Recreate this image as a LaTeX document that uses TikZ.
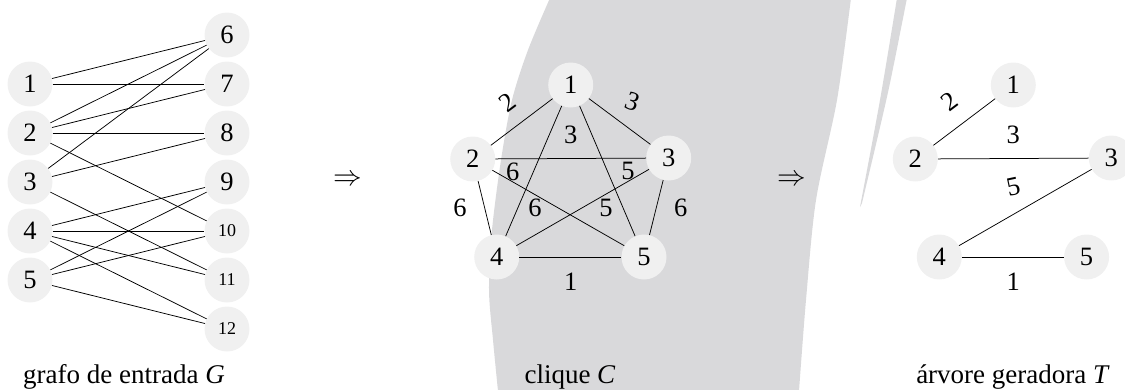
\documentclass[tikz,border=0pt]{standalone}
\usepackage{fontspec}
\setmainfont{Liberation Serif}
\definecolor{bandgray}{HTML}{D9D9DB}
\definecolor{nodegray}{HTML}{F0F0F0}
\tikzset{
  vtx/.style={circle, fill=nodegray, minimum size=45pt, inner sep=0pt, font=\fontsize{26.5}{30}\selectfont},
  smallvtx/.style={vtx, font=\fontsize{18}{20}\selectfont},
  edge/.style={line width=0.75pt, black},
  wlabel/.style={inner sep=0pt, font=\fontsize{26.5}{30}\selectfont},
  captiontext/.style={anchor=base, inner sep=0pt, font=\fontsize{27}{30}\selectfont},
  arrowsym/.style={inner sep=0pt, scale=1.15, font=\fontsize{24.88}{30}\selectfont}
}
\begin{document}
\begin{tikzpicture}[x=1pt,y=-1pt]
\useasboundingbox (0,0) rectangle (1125,389);
% background bands
\fill[bandgray] plot[smooth] coordinates {(550,-2) (528,50) (512,100) (501,160) (492,230) (489,290) (493,340) (498,391)}
  -- plot[smooth] coordinates {(799,391) (806,300) (816,200) (837,100) (851,-2)} -- cycle;
\fill[bandgray] plot[smooth] coordinates {(897,-2) (880,100) (860,207)}
  -- plot[smooth] coordinates {(862,203) (877,140) (890,83) (907,-2)} -- cycle;

% ---------- input graph G ----------
\node[vtx] (g1) at (30,84) {1};
\node[vtx] (g2) at (30,133) {2};
\node[vtx] (g3) at (30,182) {3};
\node[vtx] (g4) at (30,231) {4};
\node[vtx] (g5) at (30,280) {5};
\node[vtx] (g6) at (227,35) {6};
\node[vtx] (g7) at (227,84) {7};
\node[vtx] (g8) at (227,133) {8};
\node[vtx] (g9) at (227,182) {9};
\node[smallvtx] (g10) at (227,231) {10};
\node[smallvtx] (g11) at (227,280) {11};
\node[smallvtx] (g12) at (227,329) {12};
\foreach \a/\b in {g1/g6,g1/g7,g2/g6,g2/g7,g2/g8,g2/g10,g3/g6,g3/g8,g3/g11,g4/g9,g4/g10,g4/g11,g4/g12,g5/g9,g5/g10,g5/g12}
  \draw[edge] (\a) -- (\b);
\node[captiontext] (capG) at (124,383) {grafo de entrada \textit{G}};

\node[arrowsym] (arr1) at (348,180) {$\Rightarrow$};

% ---------- clique C ----------
\node[vtx] (c1) at (570.7,85) {1};
\node[vtx] (c2) at (472.7,159) {2};
\node[vtx] (c3) at (668.7,158) {3};
\node[vtx] (c4) at (496.7,257) {4};
\node[vtx] (c5) at (644,257) {5};
\foreach \a/\b in {c1/c2,c1/c3,c1/c4,c1/c5,c2/c3,c2/c4,c2/c5,c3/c4,c3/c5,c4/c5}
  \draw[edge] (\a) -- (\b);
\node[wlabel, rotate=37] (w12) at (508,103) {2};
\node[wlabel, rotate=-20] (w13) at (633,102) {3};
\node[wlabel] (w23) at (570.7,135) {3};
\node[wlabel] (w25) at (512.7,172) {6};
\node[wlabel] (w15) at (628,171) {5};
\node[wlabel] (w24) at (460,208) {6};
\node[wlabel] (w14) at (535,208) {6};
\node[wlabel] (w34) at (606,208) {5};
\node[wlabel] (w35) at (680.7,208) {6};
\node[wlabel] (w45) at (570.7,282) {1};
\node[captiontext] (capC) at (570,383) {clique \textit{C}};

\node[arrowsym] (arr2) at (791.7,180) {$\Rightarrow$};

% ---------- spanning tree T ----------
\node[vtx] (t1) at (1013.3,85) {1};
\node[vtx] (t2) at (915.3,159) {2};
\node[vtx] (t3) at (1111.3,158) {3};
\node[vtx] (t4) at (939.3,257) {4};
\node[vtx] (t5) at (1086.6,257) {5};
\foreach \a/\b in {t1/t2,t2/t3,t3/t4,t4/t5}
  \draw[edge] (\a) -- (\b);
\node[wlabel, rotate=37] (v12) at (950,102) {2};
\node[wlabel] (v23) at (1013.3,135) {3};
\node[wlabel, rotate=12] (v34) at (1013.3,187) {5};
\node[wlabel] (v45) at (1013.3,282) {1};
\node[captiontext] (capT) at (1013,383) {árvore geradora \textit{T}};
\end{tikzpicture}
\end{document}
